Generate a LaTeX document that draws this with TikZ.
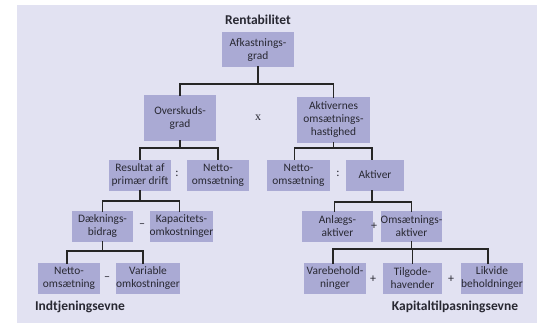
\documentclass[tikz,border=0pt]{standalone}
\usepackage{fontspec}
\setmainfont{Carlito}
\usepackage{tikz}
\usetikzlibrary{positioning}

\definecolor{bagfarve}{RGB}{226,226,242}
\definecolor{boksfarve}{RGB}{170,170,212}
\definecolor{tekstfarve}{RGB}{40,40,50}

\tikzset{
  boks/.style={fill=boksfarve, text=tekstfarve, align=center, inner sep=0pt,
    font=\fontsize{11.4}{13}\selectfont, minimum height=31pt},
  forbind/.style={line width=1.8pt, color=black!85},
  tegn/.style={text=tekstfarve, font=\fontsize{12}{13}\selectfont},
  overskrift/.style={text=tekstfarve, font=\fontsize{13.5}{15}\selectfont\bfseries}
}

\begin{document}
\begin{tikzpicture}[line cap=rect,line join=miter,x=1pt,y=-1pt]
\useasboundingbox (0,0) rectangle (537,323);
\fill[bagfarve] (17,5) rectangle (537,323);

% niveau 1
\node[overskrift] (rent) at (258,20) {Rentabilitet};
\node[boks,minimum width=72pt,minimum height=35pt] (afk) at (258,49.5) {Afkastnings-\\grad};

% niveau 2
\node[boks,minimum width=72pt,minimum height=46pt] (overskud) at (180,118) {Overskuds-\\grad};
\node[boks,minimum width=73pt,minimum height=46pt] (aktivhast) at (333.5,120) {Aktivernes\\oms\ae{}tnings-\\hastighed};
\node[tegn] (gange) at (258,118) {\fontspec{Liberation Serif}x};

% niveau 3
\node[boks,minimum width=62pt] (resultat) at (140,175) {Resultat af\\prim\ae{}r drift};
\node[boks,minimum width=62pt] (netto1) at (218,175) {Netto-\\oms\ae{}tning};
\node[boks,minimum width=63pt] (netto2) at (298.5,175) {Netto-\\oms\ae{}tning};
\node[boks,minimum width=58pt] (aktiver) at (375,175) {Aktiver};
\node[tegn] (div1) at (177,174) {:};
\node[tegn] (div2) at (338,174) {:};

% niveau 4
\node[boks,minimum width=61pt] (daekning) at (102.5,226.5) {D\ae{}knings-\\bidrag};
\node[boks,minimum width=63pt] (kapacitet) at (181.5,226.5) {Kapacitets-\\omkostninger};
\node[boks,minimum width=71pt] (anlaeg) at (337.5,226.5) {Anl\ae{}gs-\\aktiver};
\node[boks,minimum width=61pt] (omsaktiv) at (411.5,226.5) {Oms\ae{}tnings-\\aktiver};
\node[tegn] (minus1) at (142,226) {--};
\node[tegn] (plus1) at (374,226) {+};

% niveau 5
\node[boks,minimum width=62pt] (netto3) at (69,278.5) {Netto-\\oms\ae{}tning};
\node[boks,minimum width=62pt] (variabel) at (148,278.5) {Variable\\omkostninger};
\node[boks,minimum width=62pt] (vare) at (335,278.5) {Varebehold-\\ninger};
\node[boks,minimum width=59pt] (tilgode) at (412.5,278.5) {Tilgode-\\havender};
\node[boks,minimum width=62pt] (likvid) at (492,278.5) {Likvide\\beholdninger};
\node[tegn] (minus2) at (107,279) {--};
\node[tegn] (plus2) at (373,279) {+};
\node[tegn] (plus3) at (451,279) {+};

\node[overskrift] (indtj) at (80,307) {Indtjeningsevne};
\node[overskrift] (kapital) at (455,307) {Kapitaltilpasningsevne};

% forbindelser
\draw[forbind] (afk.south) -- (afk.south |- 0,84) -| (overskud.north);
\draw[forbind] (afk.south |- 0,84) -| (aktivhast.north);
\draw[forbind] (overskud.south) -- (overskud.south |- 0,148) -| (resultat.north);
\draw[forbind] (overskud.south |- 0,148) -| (netto1.north);
\draw[forbind] (aktivhast.south) -- (aktivhast.south |- 0,148) -| ([xshift=-4pt]netto2.north);
\draw[forbind] (aktivhast.south |- 0,148) -| ([xshift=-3pt]aktiver.north);
\draw[forbind] (resultat.south) -- (resultat.south |- 0,201) -| (daekning.north);
\draw[forbind] (resultat.south |- 0,201) -| ([xshift=-2pt]kapacitet.north);
\draw[forbind] ([xshift=-3pt]aktiver.south) -- ([xshift=-3pt]aktiver.south |- 0,202) -| ([xshift=-3pt]anlaeg.north);
\draw[forbind] ([xshift=-3pt]aktiver.south |- 0,202) -| (omsaktiv.north);
\draw[forbind] (daekning.south) -- (daekning.south |- 0,251) -| ([xshift=-2pt]netto3.north);
\draw[forbind] (daekning.south |- 0,251) -| ([xshift=-5pt]variabel.north);
\draw[forbind] (omsaktiv.south) -- (omsaktiv.south |- 0,249) -| ([xshift=-2pt]vare.north);
\draw[forbind] (omsaktiv.south |- 0,249) -| (tilgode.north);
\draw[forbind] (omsaktiv.south |- 0,249) -| ([xshift=-4pt]likvid.north);
\end{tikzpicture}
\end{document}
